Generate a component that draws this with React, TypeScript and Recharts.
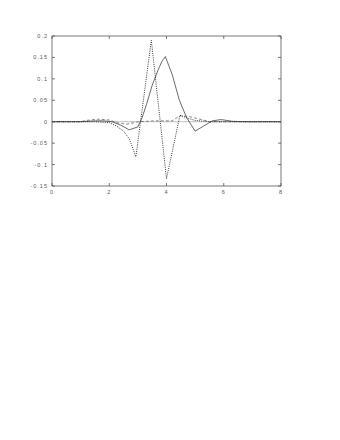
import React from "react";
import { LineChart, Line, XAxis, YAxis, ReferenceLine } from "recharts";

const xTicks = [0, 2, 4, 6, 8];
const yTicks = [-0.15, -0.1, -0.05, 0, 0.05, 0.1, 0.15, 0.2];
const yTickLabels = ["-0.15", "-0.1", "-0.05", "0", "0.05", "0.1", "0.15", "0.2"];

const solidX = [0, 0.5, 1, 1.5, 1.8, 2.1, 2.4, 2.7, 3.0, 3.15, 3.3, 3.5, 3.7, 3.85, 3.96, 4.2, 4.45, 4.7, 5.0, 5.3, 5.6, 5.9, 6.3, 6.7, 7, 8];
const solidY = [0, 0, 0, 0.002, 0.002, 0, -0.008, -0.019, -0.012, 0.01, 0.04, 0.085, 0.12, 0.142, 0.152, 0.11, 0.05, 0.01, -0.022, -0.01, 0.002, 0.005, 0.001, 0, 0, 0];

const dottedX = [0, 0.5, 1, 1.5, 2.0, 2.25, 2.5, 2.7, 2.93, 3.47, 4.0, 4.47, 4.75, 5.0, 5.5, 6, 7, 8];
const dottedY = [0, 0, 0, 0, -0.002, -0.01, -0.022, -0.04, -0.082, 0.19, -0.133, 0.015, 0.008, 0.003, 0, 0, 0, 0];

const dashedX = [0, 1, 1.2, 1.6, 2.0, 2.3, 2.6, 3.0, 3.6, 4.2, 4.47, 4.8, 5.1, 5.5, 6, 8];
const dashedY = [0, 0, 0.003, 0.006, 0.004, -0.003, -0.006, 0, 0.002, 0.002, 0.014, 0.012, 0.007, 0, 0, 0];

const toRows = (xs: number[], ys: number[]) => xs.map((x, i) => ({ x, y: ys[i] }));
const solidData = toRows(solidX, solidY);
const dottedData = toRows(dottedX, dottedY);
const dashedData = toRows(dashedX, dashedY);

const AX = "#555";
const TXT = "#555";
const FONT = { fontFamily: "Liberation Sans, Arial, sans-serif", fontSize: 5.5, letterSpacing: 1 };
const MARGIN_T = 4;
const TICK_LEN = 3;

const BottomTick = (props: any) => {
  const { x, y, payload } = props;
  const axisY = y - MARGIN_T;
  return (
    <g>
      <line x1={x} x2={x} y1={axisY} y2={axisY - TICK_LEN} stroke={AX} strokeWidth={0.8} />
      <text x={x} y={y + 4} textAnchor="middle" fill={TXT} style={FONT}>
        {String(payload.value)}
      </text>
    </g>
  );
};

const LeftTick = (props: any) => {
  const { x, y, payload } = props;
  const axisX = x + MARGIN_T;
  const idx = yTicks.indexOf(payload.value);
  const label = idx >= 0 ? yTickLabels[idx] : String(payload.value);
  return (
    <g>
      <line x1={axisX} x2={axisX + TICK_LEN} y1={y} y2={y} stroke={AX} strokeWidth={0.8} />
      <text x={x} y={y + 2} textAnchor="end" fill={TXT} style={FONT}>
        {label}
      </text>
    </g>
  );
};

const TopTick = (props: any) => {
  const { x, y } = props;
  return <line x1={x} x2={x} y1={y} y2={y + TICK_LEN} stroke={AX} strokeWidth={0.8} />;
};

const RightTick = (props: any) => {
  const { x, y } = props;
  return <line x1={x} x2={x - TICK_LEN} y1={y} y2={y} stroke={AX} strokeWidth={0.8} />;
};

export default function App() {
  return (
    <div style={{ width: 324, height: 220 }}>
      <LineChart width={324} height={220} margin={{ top: 27, right: 50, bottom: 22, left: 0 }}>
        <XAxis
          xAxisId="b"
          type="number"
          dataKey="x"
          domain={[0, 8]}
          ticks={xTicks}
          interval={0}
          allowDataOverflow
          height={20}
          tickSize={0}
          tickMargin={MARGIN_T}
          axisLine={{ stroke: AX, strokeWidth: 0.8 }}
          tick={<BottomTick />}
        />
        <XAxis
          xAxisId="t"
          orientation="top"
          type="number"
          dataKey="x"
          domain={[0, 8]}
          ticks={xTicks}
          interval={0}
          allowDataOverflow
          height={1}
          tickSize={0}
          tickMargin={0}
          axisLine={{ stroke: AX, strokeWidth: 0.8 }}
          tick={<TopTick />}
        />
        <YAxis
          yAxisId="l"
          type="number"
          domain={[-0.15, 0.2]}
          ticks={yTicks}
          interval={0}
          allowDataOverflow
          width={44}
          tickSize={0}
          tickMargin={MARGIN_T}
          axisLine={{ stroke: AX, strokeWidth: 0.8 }}
          tick={<LeftTick />}
        />
        <YAxis
          yAxisId="r"
          orientation="right"
          type="number"
          domain={[-0.15, 0.2]}
          ticks={yTicks}
          interval={0}
          allowDataOverflow
          width={1}
          tickSize={0}
          tickMargin={0}
          axisLine={{ stroke: AX, strokeWidth: 0.8 }}
          tick={<RightTick />}
        />
        <ReferenceLine xAxisId="b" yAxisId="l" y={0} stroke="#b0b0b0" strokeWidth={0.8} />
        <Line
          xAxisId="b"
          yAxisId="l"
          data={dashedData}
          dataKey="y"
          type="linear"
          stroke="#666"
          strokeWidth={0.8}
          strokeDasharray="3 2"
          dot={false}
          isAnimationActive={false}
        />
        <Line
          xAxisId="b"
          yAxisId="l"
          data={solidData}
          dataKey="y"
          type="linear"
          stroke="#444"
          strokeWidth={0.8}
          dot={false}
          isAnimationActive={false}
        />
        <Line
          xAxisId="b"
          yAxisId="l"
          data={dottedData}
          dataKey="y"
          type="linear"
          stroke="#222"
          strokeWidth={0.9}
          strokeDasharray="1 1.2"
          dot={false}
          isAnimationActive={false}
        />
      </LineChart>
    </div>
  );
}
